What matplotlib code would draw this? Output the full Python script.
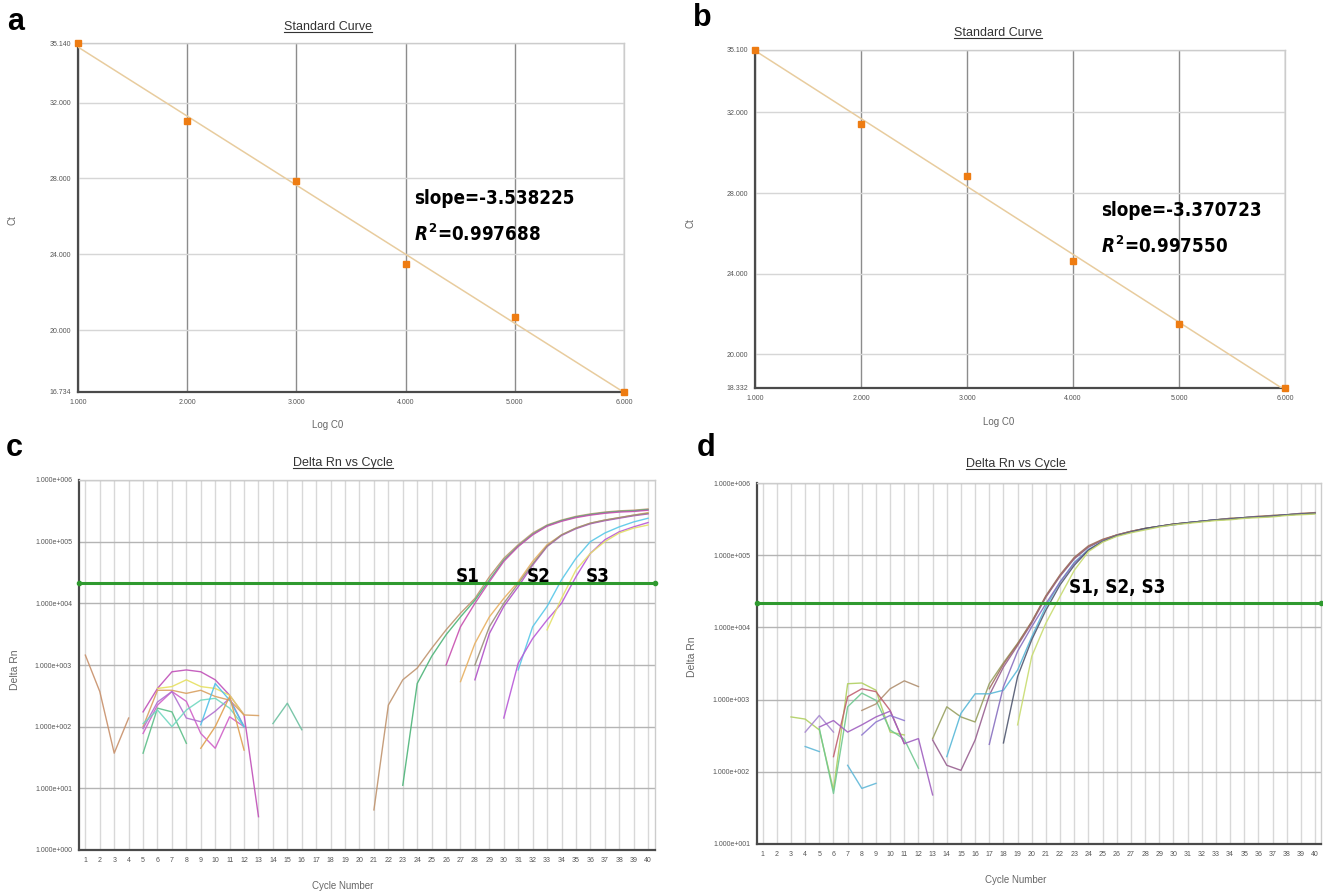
import numpy as np
import matplotlib
matplotlib.use("Agg")
import matplotlib.pyplot as plt
from matplotlib.lines import Line2D
from matplotlib.ticker import NullLocator

W, H = 1323, 893

# ---- standard curves (a, b) ----
log_c0 = [1, 2, 3, 4, 5, 6]
ct_a = [35.140, 31.05, 27.84, 23.47, 20.69, 16.734]
ct_b = [35.100, 31.45, 28.85, 24.65, 21.50, 18.332]
yticks_a = [16.734, 20, 24, 28, 32, 35.140]
yticks_b = [18.332, 20, 24, 28, 32, 35.100]
slope_a, r2_a = "-3.538225", "0.997688"
slope_b, r2_b = "-3.370723", "0.997550"

# ---- amplification plots (c, d), log10 of Delta Rn, by start cycle ----
cycles = list(range(1, 41))
threshold_c = 2.1e4
threshold_d = 2.2e4

c_brown_early = (1, [3.16, 2.57, 1.57, 2.14])
c_magenta_arc = (5, [2.24, 2.62, 2.89, 2.92, 2.89, 2.76, 2.51, 2.19, 0.54])
c_yellow_arc = (6, [2.62, 2.65, 2.76, 2.65, 2.62, 2.51, 2.19])
c_orange_arc = (5, [2.00, 2.59, 2.59, 2.54, 2.59, 2.49, 2.43, 2.19, 2.18])
c_pink_zig = (5, [1.89, 2.35, 2.57, 2.41, 1.89, 1.65, 2.16, 2.00])
c_purple = (5, [1.97, 2.40, 2.57, 2.14, 2.08, 2.25, 2.46, 2.00])
c_green_short = (5, [1.57, 2.30, 2.24, 1.73])
c_teal = (5, [2.05, 2.27, 2.00, 2.27, 2.43, 2.46, 2.30, 2.00])
c_cyan_short = (9, [2.03, 2.70, 2.43, 2.00])
c_orange_short = (9, [1.65, 2.00, 2.49, 1.62])
c_green_late = (14, [2.05, 2.38, 1.95])

c_s1_brown = (21, [0.65, 2.35, 2.76, 2.95, 3.27, 3.57, 3.84, 4.08, 4.43, 4.73,
                   4.95, 5.14, 5.27, 5.35, 5.41, 5.45, 5.48, 5.50, 5.51, 5.53])
c_s1_green = (23, [1.05, 2.70, 3.14, 3.49, 3.78, 4.05, 4.38, 4.70, 4.93, 5.12,
                   5.26, 5.34, 5.40, 5.44, 5.47, 5.49, 5.50, 5.52])
c_s1_magenta = (26, [3.00, 3.62, 4.00, 4.35, 4.68, 4.92, 5.11, 5.25, 5.33, 5.39,
                     5.43, 5.46, 5.48, 5.49, 5.51])
c_s2_orange = (27, [2.73, 3.35, 3.78, 4.08, 4.35, 4.68, 4.95, 5.11, 5.22, 5.30,
                    5.35, 5.39, 5.43, 5.47])
c_s2_purple = (28, [2.76, 3.51, 3.95, 4.27, 4.62, 4.92, 5.10, 5.21, 5.29, 5.34,
                    5.38, 5.42, 5.45])
c_s2_gray = (28, [3.00, 3.62, 4.00, 4.32, 4.64, 4.93, 5.11, 5.22, 5.30, 5.35,
                  5.39, 5.43, 5.46])
c_s3_cyan = (31, [2.92, 3.62, 3.95, 4.38, 4.73, 5.00, 5.14, 5.24, 5.32, 5.38])
c_s3_magenta = (30, [2.14, 3.03, 3.43, 3.73, 4.00, 4.43, 4.81, 5.03, 5.16, 5.24, 5.31])
c_s3_yellow = (33, [3.57, 4.08, 4.54, 4.81, 5.00, 5.14, 5.22, 5.27])

d_lime = (3, [2.76, 2.73, 2.58, 1.75, 3.22, 3.23, 3.13, 2.55, 2.51])
d_green = (5, [2.60, 1.70, 2.90, 3.09, 2.99, 2.58, 2.45, 2.05])
d_olive = (8, [2.85, 2.94, 3.15, 3.26, 3.18])
d_purple_short = (4, [2.55, 2.78, 2.55])
d_red = (6, [2.21, 3.04, 3.15, 3.11, 2.85, 2.39])
d_violet = (5, [2.62, 2.71, 2.55, 2.65, 2.76, 2.84, 2.39, 2.46, 1.68])
d_violet2 = (8, [2.51, 2.69, 2.78, 2.71])
d_cyan_a = (4, [2.35, 2.28])
d_cyan_b = (7, [2.09, 1.77, 1.84])

d_olive2 = (13, [2.46, 2.90, 2.76, 2.69, 3.22, 3.51, 3.78, 4.08, 4.43, 4.72,
                 4.96, 5.12, 5.21, 5.28, 5.33, 5.37, 5.40, 5.43, 5.45, 5.47,
                 5.49, 5.51, 5.52, 5.53, 5.55, 5.56, 5.57, 5.59])
d_plum = (13, [2.44, 2.09, 2.02, 2.44, 3.06, 3.45, 3.75, 4.06, 4.42, 4.71,
               4.95, 5.11, 5.21, 5.28, 5.33, 5.37, 5.40, 5.43, 5.45, 5.47,
               5.49, 5.50, 5.52, 5.53, 5.54, 5.56, 5.57, 5.58])
d_cyan = (14, [2.21, 2.81, 3.08, 3.08, 3.13, 3.41, 3.87, 4.29, 4.63, 4.90,
               5.08, 5.19, 5.27, 5.32, 5.36, 5.40, 5.42, 5.45, 5.47, 5.49,
               5.50, 5.52, 5.53, 5.54, 5.56, 5.57, 5.58])
d_brown = (17, [3.15, 3.49, 3.77, 4.08, 4.44, 4.73, 4.97, 5.13, 5.22, 5.28,
                5.33, 5.37, 5.40, 5.43, 5.45, 5.47, 5.49, 5.51, 5.52, 5.54,
                5.55, 5.56, 5.58, 5.59])
d_purple = (17, [2.38, 3.18, 3.67, 4.01, 4.33, 4.63, 4.89, 5.07, 5.19, 5.27,
                 5.32, 5.36, 5.40, 5.42, 5.45, 5.47, 5.49, 5.50, 5.52, 5.53,
                 5.54, 5.56, 5.57, 5.58])
d_navy = (18, [2.40, 3.32, 3.83, 4.24, 4.59, 4.86, 5.07, 5.19, 5.27, 5.32,
               5.37, 5.40, 5.43, 5.45, 5.47, 5.49, 5.50, 5.52, 5.53, 5.54,
               5.56, 5.57, 5.58])
d_yellow = (19, [2.65, 3.60, 4.06, 4.43, 4.79, 5.05, 5.18, 5.26, 5.31, 5.35,
                 5.39, 5.42, 5.44, 5.46, 5.48, 5.49, 5.51, 5.52, 5.53, 5.55,
                 5.56, 5.57])

curves_c = [
    (c_brown_early, "#c8906a"), (c_magenta_arc, "#c050b8"), (c_yellow_arc, "#e6e060"),
    (c_orange_arc, "#d9a060"), (c_pink_zig, "#d060c8"), (c_purple, "#b070d0"),
    (c_green_short, "#5cbf88"), (c_teal, "#70d8c0"), (c_cyan_short, "#50c0e8"),
    (c_orange_short, "#e0a050"), (c_green_late, "#6cc0a0"),
    (c_s1_brown, "#c0946e"), (c_s1_green, "#4cb478"), (c_s1_magenta, "#c850b0"),
    (c_s2_orange, "#e8b060"), (c_s2_purple, "#b050c8"), (c_s2_gray, "#9a9078"),
    (c_s3_cyan, "#58c8e8"), (c_s3_magenta, "#b858d8"), (c_s3_yellow, "#e4e068"),
]
curves_d = [
    (d_lime, "#b0d060"), (d_green, "#70c890"), (d_olive, "#b09070"),
    (d_purple_short, "#a888d0"), (d_red, "#c06070"), (d_violet, "#a060c0"),
    (d_violet2, "#9078d0"), (d_cyan_a, "#60b8d8"), (d_cyan_b, "#60b8d8"),
    (d_olive2, "#98a060"), (d_plum, "#986090"), (d_cyan, "#58b8d8"),
    (d_brown, "#a07060"), (d_purple, "#8870c0"), (d_navy, "#505870"),
    (d_yellow, "#c8dc70"),
]

plt.rcParams["font.family"] = ["Liberation Sans", "DejaVu Sans"]
plt.rcParams["mathtext.fontset"] = "custom"
plt.rcParams["mathtext.it"] = "DejaVu Sans:style=italic:weight=bold:stretch=condensed"
plt.rcParams["mathtext.rm"] = "DejaVu Sans:weight=bold:stretch=condensed"

fig = plt.figure(figsize=(W / 100, H / 100), dpi=100, facecolor="white")


def px_axes(left, top, right, bottom):
    return fig.add_axes([left / W, 1 - bottom / H, (right - left) / W, (bottom - top) / H])


def ftext(x, y, s, **kw):
    return fig.text(x / W, 1 - y / H, s, **kw)


def style_spines(ax):
    for side in ("left", "bottom"):
        ax.spines[side].set_color("#4a4a4a")
        ax.spines[side].set_linewidth(1.6)
    for side in ("top", "right"):
        ax.spines[side].set_color("#cccccc")
        ax.spines[side].set_linewidth(1.0)
    ax.tick_params(length=0, labelsize=5, labelcolor="#555555", pad=5)
    ax.set_axisbelow(True)


def standard_panel(ax, ct, yticks):
    ax.set_xlim(1, 6)
    ax.set_ylim(yticks[0], yticks[-1])
    ax.set_xticks(log_c0)
    ax.set_xticklabels([f"{v:.3f}" for v in log_c0])
    ax.set_yticks(yticks)
    ax.set_yticklabels([f"{v:.3f}" for v in yticks])
    ax.grid(axis="x", color="#8c8c8c", lw=1.0)
    ax.grid(axis="y", color="#d6d6d6", lw=1.0)
    style_spines(ax)
    k, b = np.polyfit(log_c0, ct, 1)
    xs = np.array([1.0, 6.0])
    ax.plot(xs, k * xs + b, color="#e8cc9e", lw=1.1, zorder=3)
    ax.plot(log_c0, ct, "s", color="#ee7c12", ms=4.5, clip_on=False, zorder=5)


def cycle_panel(ax, curves, ylo, xlim, thr):
    ax.set_yscale("log")
    ax.set_xlim(*xlim)
    ax.set_ylim(10.0 ** ylo, 1e6)
    ax.set_xticks(cycles)
    decades = list(range(ylo, 7))
    ax.set_yticks([10.0 ** e for e in decades])
    ax.set_yticklabels([f"1.000e+{e:03d}" for e in decades])
    ax.yaxis.set_minor_locator(NullLocator())
    ax.grid(axis="x", color="#d8d8d8", lw=1.0)
    ax.grid(axis="y", color="#b4b4b4", lw=1.0)
    style_spines(ax)
    for (start, vals), color in curves:
        x = np.arange(start, start + len(vals))
        ax.plot(x, 10.0 ** np.array(vals), color=color, lw=1.0, alpha=0.9)
    ax.plot(xlim, [thr, thr], color="#2f9a2f", lw=2.2, marker="o", ms=3,
            clip_on=False, zorder=6)


ax_a = px_axes(78, 43, 624, 392)
standard_panel(ax_a, ct_a, yticks_a)
ax_b = px_axes(755, 50, 1285, 388)
standard_panel(ax_b, ct_b, yticks_b)
ax_c = px_axes(79, 480, 655, 850)
cycle_panel(ax_c, curves_c, 0, (0.56, 40.48), threshold_c)
ax_d = px_axes(757, 483, 1321, 844)
cycle_panel(ax_d, curves_d, 1, (0.6, 40.42), threshold_d)

# panel letters
for x, y, s in [(16, 22, "a"), (702, 18, "b"), (14, 448, "c"), (706, 448, "d")]:
    ftext(x, y, s, fontsize=22, fontweight="bold", ha="center", va="center")

# titles (underlined)
titles = []
for x, y, s in [(328, 27, "Standard Curve"), (998, 33, "Standard Curve"),
                (343, 463, "Delta Rn vs Cycle"), (1016, 464, "Delta Rn vs Cycle")]:
    titles.append(ftext(x, y, s, fontsize=9, color="#333333", ha="center", va="center"))

# axis labels
lab = dict(fontsize=7, color="#666666", ha="center", va="center")
ftext(328, 425, "Log C0", **lab)
ftext(999, 422, "Log C0", **lab)
ftext(13, 220, "Ct", rotation=90, **lab)
ftext(690, 223, "Ct", rotation=90, **lab)
ftext(343, 886, "Cycle Number", **lab)
ftext(1016, 880, "Cycle Number", **lab)
ftext(15, 670, "Delta Rn", rotation=90, fontsize=7.5, color="#666666", ha="center", va="center")
ftext(692, 657, "Delta Rn", rotation=90, fontsize=7.5, color="#666666", ha="center", va="center")

# fit annotations, condensed bold
ann = dict(fontsize=13.5, fontweight="bold", family="DejaVu Sans",
           fontstretch="condensed", va="center")
ftext(414, 199, f"slope={slope_a}", ha="left", **ann)
ftext(414, 234, f"$R^2$={r2_a}", ha="left", **ann)
ftext(1101, 211, f"slope={slope_b}", ha="left", **ann)
ftext(1101, 246, f"$R^2$={r2_b}", ha="left", **ann)

ftext(468, 576, "S1", ha="center", **ann)
ftext(539, 576, "S2", ha="center", **ann)
ftext(598, 576, "S3", ha="center", **ann)
ftext(1069, 587, "S1, S2, S3", ha="left", **ann)

fig.canvas.draw()
renderer = fig.canvas.get_renderer()
for t in titles:
    bb = t.get_window_extent(renderer).transformed(fig.transFigure.inverted())
    fig.add_artist(Line2D([bb.x0, bb.x1], [bb.y0 + 0.001, bb.y0 + 0.001],
                          transform=fig.transFigure, color="#333333", lw=0.8))

fig.savefig("out.png", dpi=100, facecolor="white")
